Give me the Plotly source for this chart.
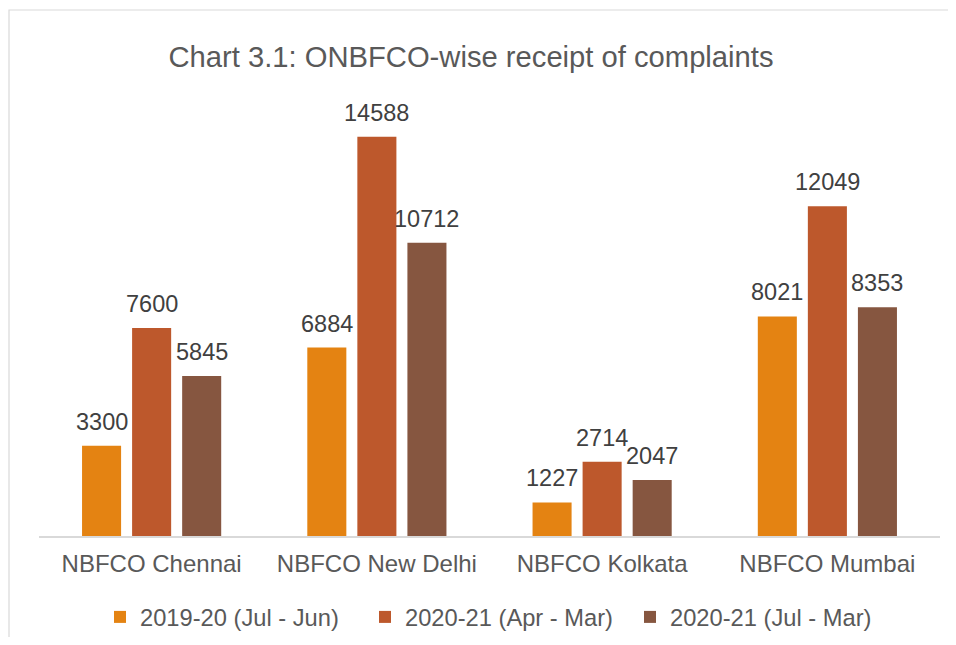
import plotly.graph_objects as go

categories = ["NBFCO Chennai", "NBFCO New Delhi", "NBFCO Kolkata", "NBFCO Mumbai"]
series_names = ["2019-20 (Jul - Jun)", "2020-21 (Apr - Mar)", "2020-21 (Jul - Mar)"]
s2019_20_jul_jun = [3300, 6884, 1227, 8021]
s2020_21_apr_mar = [7600, 14588, 2714, 12049]
s2020_21_jul_mar = [5845, 10712, 2047, 8353]
colors = ["#E48312", "#BD582C", "#865640"]

# page body has an 8px margin on every side; keep the whole page within 956x645
OFF = 8
W, H = 956 - 2 * OFF, 645 - 2 * OFF
L = 39 - OFF
T = 98 - OFF
R = W - (940 - OFF)
B = H - (536 - OFF)
PW, PH = W - L - R, H - T - B

def px_x(p):
    return (p - OFF - L) / PW

def px_y(p):
    return (H - B - (p - OFF)) / PH

def cont_y(p):
    return 1 - (p - OFF) / H

FONT = "Liberation Sans, Arial, sans-serif"

fig = go.Figure()
all_series = [s2019_20_jul_jun, s2020_21_apr_mar, s2020_21_jul_mar]
for name, vals, col in zip(series_names, all_series, colors):
    fig.add_trace(go.Bar(
        x=categories, y=vals, name=name,
        marker=dict(color=col, line=dict(width=0)),
    ))

# data labels
slot = PW / len(categories) * (1 - 1/3) / 3
for i, vals in enumerate(all_series):
    for c, v in zip(categories, vals):
        fig.add_annotation(
            x=c, y=v, xref="x", yref="y", text=str(v), showarrow=False,
            xshift=(i - 1) * slot, yanchor="bottom", yshift=9,
            font=dict(family=FONT, size=23.5, color="#404040"),
        )

fig.add_shape(type="rect", xref="paper", yref="paper",
              x0=px_x(9), x1=px_x(1400), y0=px_y(10), y1=px_y(1000),
              line=dict(color="#D9D9D9", width=1.2), fillcolor="rgba(0,0,0,0)", layer="below")

fig.update_layout(
    width=W, height=H,
    margin=dict(l=L, r=R, t=T, b=B, pad=0, autoexpand=False),
    paper_bgcolor="white", plot_bgcolor="white",
    barmode="group", bargap=1/3, bargroupgap=0.22,
    font=dict(family=FONT, color="#595959"),
    title=dict(text="Chart 3.1: ONBFCO-wise receipt of complaints",
               xref="paper", x=px_x(471), xanchor="center",
               yref="container", y=cont_y(57), yanchor="middle",
               font=dict(family=FONT, size=29.2, color="#595959")),
    xaxis=dict(showline=True, linecolor="#D9D9D9", linewidth=1.5,
               ticks="outside", ticklen=5, tickcolor="rgba(0,0,0,0)",
               tickfont=dict(family=FONT, size=24, color="#595959"),
               showgrid=False, zeroline=False, automargin=False),
    yaxis=dict(range=[0, 16000], visible=False, showgrid=False, zeroline=False),
    legend=dict(orientation="h", xref="paper", x=px_x(116 - 16), xanchor="left",
                yref="container", y=cont_y(617), yanchor="middle",
                font=dict(family=FONT, size=23.7, color="#595959"),
                itemwidth=30, entrywidth=220, entrywidthmode="pixels",
                traceorder="normal"),
    showlegend=True,
)

fig.write_html("out.html")
